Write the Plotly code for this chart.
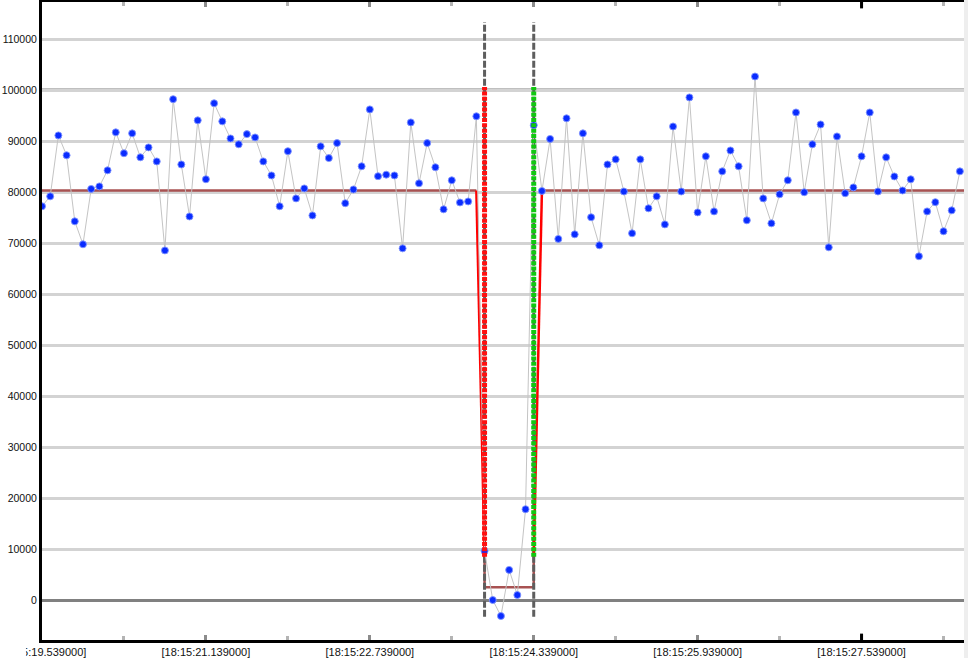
import plotly.graph_objects as go

# ---- data ----
START_S = 19.539          # seconds after 18:15:00 of first sample
STEP_S = 0.08             # sampling interval (s)
VALUES = [
    77200, 79150, 91100, 87200, 74250, 69750, 80600, 81100, 84250, 91700,
    87600, 91500, 86800, 88750, 86000, 68550, 98200, 85400, 75200, 94050,
    82500, 97400, 93850, 90500, 89350, 91350, 90700, 86000, 83250, 77200,
    88000, 78750, 80700, 75400, 88950, 86650, 89600, 77800, 80500, 85050,
    96200, 83100, 83400, 83250, 68950, 93650, 81700, 89600, 84850, 76600,
    82300, 77950, 78150, 94850, 9600, 0, -3140, 5900, 980, 17800,
    93100, 80200, 90400, 70800, 94450, 71700, 91500, 75050, 69550, 85400,
    86400, 80100, 71900, 86400, 76800, 79150, 73650, 92850, 80100, 98550,
    76000, 87000, 76200, 84050, 88150, 85050, 74450, 102650, 78750, 73850,
    79550, 82300, 95600, 79950, 89350, 93250, 69150, 90900, 79750, 80900,
    87000, 95600, 80100, 86800, 83050, 80300, 82500, 67400, 76200, 78000,
    72300, 76400, 84050,
]
TIMES = [round(START_S + STEP_S * i, 3) for i in range(len(VALUES))]

X_RANGE = [19.539, 28.539]
Y_RANGE = [-7843, 117255]

EVENT_START_IDX = 54      # red marker
EVENT_END_IDX = 60        # green marker
MEAN_LEVEL = 80300
DIP_LEVEL = 2500
COLUMN_SPAN = [8500, 100600]
EVENT_SPAN = [-3300, 113300]
LIMIT_LINES = [100000]

MAJOR_TICKS = [19.539, 21.139, 22.739, 24.339, 25.939, 27.539]
MAJOR_LABELS = ["[18:15:19.539000]", "[18:15:21.139000]", "[18:15:22.739000]",
                "[18:15:24.339000]", "[18:15:25.939000]", "[18:15:27.539000]"]
MINOR_TICKS = [20.339, 21.939, 23.539, 25.139, 26.739, 28.339]
CURSOR_T = 27.539

t_pre = TIMES[EVENT_START_IDX - 1]
t_ev0 = TIMES[EVENT_START_IDX]
t_ev1 = TIMES[EVENT_END_IDX]
t_post = TIMES[EVENT_END_IDX + 1]
col_low = COLUMN_SPAN[0]

fig = go.Figure()

# mean / level line
fig.add_trace(go.Scatter(
    x=[TIMES[0], t_pre, None, t_ev0, t_ev0, t_ev1, t_ev1, None, t_post, X_RANGE[1]],
    y=[MEAN_LEVEL, MEAN_LEVEL, None, col_low, DIP_LEVEL, DIP_LEVEL, col_low, None, MEAN_LEVEL, MEAN_LEVEL],
    mode="lines", line=dict(color="#a85252", width=2.5), hoverinfo="skip"))

# event dashed verticals
fig.add_trace(go.Scatter(
    x=[t_ev0, t_ev0, None, t_ev1, t_ev1],
    y=[EVENT_SPAN[0], EVENT_SPAN[1], None, EVENT_SPAN[0], EVENT_SPAN[1]],
    mode="lines", line=dict(color="#5e5e5e", width=3, dash="7px,2px"), hoverinfo="skip"))

# red transitions
fig.add_trace(go.Scatter(
    x=[t_pre, t_ev0, None, t_ev1, t_post],
    y=[MEAN_LEVEL, col_low, None, col_low, MEAN_LEVEL],
    mode="lines", line=dict(color="#ff0000", width=2.5), hoverinfo="skip"))

# data
fig.add_trace(go.Scatter(
    x=TIMES, y=VALUES, mode="lines+markers",
    line=dict(color="#c4c4c4", width=1),
    marker=dict(color="#0a2cff", size=7, line=dict(color="rgba(130,150,255,0.9)", width=1))))

# event columns (drawn above the samples)
fig.add_trace(go.Scatter(
    x=[t_ev0, t_ev0], y=COLUMN_SPAN, mode="lines",
    line=dict(color="#ff1010", width=5, dash="4px,1.3px"), hoverinfo="skip"))
fig.add_trace(go.Scatter(
    x=[t_ev1, t_ev1], y=COLUMN_SPAN, mode="lines",
    line=dict(color="#10c810", width=5, dash="4px,1.3px"), hoverinfo="skip"))

shapes = []
for lv in LIMIT_LINES:
    shapes.append(dict(type="line", xref="paper", x0=0, x1=1, yref="y", y0=lv, y1=lv,
                       line=dict(color="#808080", width=3), layer="between"))
# right light strip
shapes.append(dict(type="rect", xref="paper", x0=1.0, x1=1.01, yref="paper", y0=-0.05, y1=1.01,
                   fillcolor="#eeeeee", line=dict(width=0), layer="above"))
# left clip of first label
shapes.append(dict(type="rect", xref="paper", x0=-0.06, x1=-0.0174, yref="paper", y0=-0.035, y1=-0.006,
                   fillcolor="white", line=dict(width=0), layer="above"))
# cursor marks
shapes.append(dict(type="line", xref="x", x0=CURSOR_T, x1=CURSOR_T, yref="paper", y0=0, y1=0.01,
                   line=dict(color="black", width=3), layer="above"))
shapes.append(dict(type="line", xref="x", x0=CURSOR_T, x1=CURSOR_T, yref="paper", y0=0.99, y1=1,
                   line=dict(color="black", width=3), layer="above"))

fig.update_layout(
    width=968, height=658,
    margin=dict(l=42, r=4, t=2, b=18, autoexpand=False),
    plot_bgcolor="white", paper_bgcolor="white",
    showlegend=False,
    shapes=shapes,
    xaxis=dict(range=X_RANGE, showgrid=False, zeroline=False, automargin=False,
               showline=True, linecolor="black", linewidth=3, mirror="allticks",
               ticks="inside", ticklen=5, tickwidth=3, tickcolor="#8c8c8c",
               tickvals=MAJOR_TICKS, ticktext=MAJOR_LABELS, ticklabeloverflow="allow",
               tickfont=dict(family="Liberation Sans, Arial", size=11, color="#111111"),
               minor=dict(tickvals=MINOR_TICKS, ticks="inside", ticklen=4, tickwidth=3,
                          tickcolor="#b4b4b4", showgrid=False)),
    yaxis=dict(range=Y_RANGE, tick0=0, dtick=10000, tickformat="d", automargin=False,
               showgrid=True, gridcolor="#d3d3d3", gridwidth=3,
               zeroline=True, zerolinecolor="#808080", zerolinewidth=3,
               showline=True, linecolor="black", linewidth=3, mirror=False,
               ticks="", tickfont=dict(family="Liberation Sans, Arial", size=10.5, color="#111111")),
)

fig.write_html(
    "out.html",
    config={"displayModeBar": False},
    post_script="document.body.style.margin='0';document.body.style.overflow='hidden';",
)
